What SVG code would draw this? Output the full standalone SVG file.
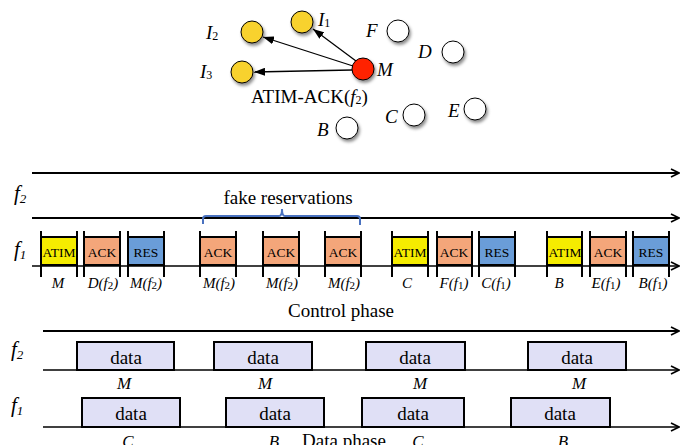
<svg xmlns="http://www.w3.org/2000/svg" width="694" height="445" viewBox="0 0 694 445">
<defs>
<style>
.t{font-family:"Liberation Serif","Times New Roman",serif;fill:#000}
.i{font-style:italic}
.n{font-style:normal}
.nd circle{stroke:#000;stroke-width:1;filter:url(#sh)}
.box{stroke:#000;stroke-width:2}
.tick{stroke:#000;stroke-width:2}
.tl{stroke:#000;fill:none;marker-end:url(#open)}
.atim{fill:#F5EC00}
.ack{fill:#F4A67A}
.res{fill:#6A9DD8}
.data{fill:#E0E0F6;stroke:#000;stroke-width:2}
.arr{stroke:#000;stroke-width:1.3;fill:none;marker-end:url(#ah)}
</style>
<filter id="sh" x="-60%" y="-60%" width="220%" height="220%"><feDropShadow dx="1.5" dy="2.5" stdDeviation="1.8" flood-color="#000" flood-opacity="0.45"/></filter>
<marker id="ah" markerWidth="11" markerHeight="8" refX="11" refY="4" orient="auto" markerUnits="userSpaceOnUse"><path d="M0,0 L11,4 L0,8 z" fill="#000"/></marker>
<marker id="open" markerWidth="10" markerHeight="10" refX="9" refY="5" orient="auto" markerUnits="userSpaceOnUse"><path d="M1,1 L9,5 L1,9" fill="none" stroke="#000" stroke-width="1.6"/></marker>
</defs>
<rect width="694" height="445" fill="#fff"/>

<!-- top graph connectors -->
<g id="connectors">
<line class="arr" x1="356" y1="61" x2="313" y2="29"/>
<line class="arr" x1="353" y1="66" x2="263" y2="37"/>
<line class="arr" x1="352" y1="70" x2="254" y2="72"/>
</g>

<g id="node-I1" class="nd"><circle cx="302" cy="22" r="11" fill="#F8D22E"/><text class="t i" x="318" y="26" font-size="19">I<tspan class="n" font-size="12" dy="1">1</tspan></text></g>
<g id="node-I2" class="nd"><circle cx="252" cy="32" r="11" fill="#F8D22E"/><text class="t i" x="206" y="39" font-size="19">I<tspan class="n" font-size="12" dy="1">2</tspan></text></g>
<g id="node-I3" class="nd"><circle cx="242" cy="72" r="11" fill="#F8D22E"/><text class="t i" x="200" y="78" font-size="19">I<tspan class="n" font-size="12" dy="1">3</tspan></text></g>
<g id="node-M" class="nd"><circle cx="363" cy="69" r="11" fill="#FF2200"/><text class="t i" x="377" y="76" font-size="19">M</text></g>
<g id="node-F" class="nd"><circle cx="398" cy="31" r="11" fill="#fff"/><text class="t i" x="366" y="37" font-size="19">F</text></g>
<g id="node-D" class="nd"><circle cx="453" cy="52" r="11" fill="#fff"/><text class="t i" x="418" y="58" font-size="19">D</text></g>
<g id="node-E" class="nd"><circle cx="475" cy="109" r="11" fill="#fff"/><text class="t i" x="448" y="117" font-size="19">E</text></g>
<g id="node-C" class="nd"><circle cx="414" cy="115" r="11" fill="#fff"/><text class="t i" x="385" y="123" font-size="19">C</text></g>
<g id="node-B" class="nd"><circle cx="347" cy="128" r="11" fill="#fff"/><text class="t i" x="317" y="136" font-size="19">B</text></g>
<text class="t" x="251" y="103" font-size="19">ATIM-ACK(<tspan class="i">f</tspan><tspan font-size="12" dy="1">2</tspan><tspan dy="-1">)</tspan></text>

<!-- control phase timelines -->
<g id="control-lines">
<line class="tl" x1="32" y1="173" x2="679" y2="173" stroke-width="2"/>
<line class="tl" x1="32" y1="218" x2="679" y2="218" stroke-width="2"/>
<line class="tl" x1="32" y1="266" x2="679" y2="266" stroke-width="1.6"/>
</g>
<text class="t i" x="14" y="200" font-size="21">f<tspan font-size="13" dy="3">2</tspan></text>
<text class="t i" x="14" y="256" font-size="21">f<tspan font-size="13" dy="3">1</tspan></text>

<g id="bracket">
<path d="M203,224 L203,219 Q203,216 206,216 L279,216 Q282,216 282,209 Q282,216 285,216 L357,216 Q360,216 360,219 L360,225" fill="none" stroke="#4A72C0" stroke-width="2"/>
<text class="t" x="288" y="204" font-size="19" text-anchor="middle">fake reservations</text>
</g>

<g id="control-boxes">
<g id="b1"><rect class="box atim" x="41" y="237" width="36" height="28"/><path class="tick" d="M41,231V277M77,231V277"/><text class="t" x="59" y="257" font-size="13.5" text-anchor="middle">ATIM</text><text class="t i" x="58" y="288" font-size="15" text-anchor="middle">M</text></g>
<g id="b2"><rect class="box ack" x="84" y="237" width="36" height="28"/><path class="tick" d="M84,231V277M120,231V277"/><text class="t" x="102" y="257" font-size="13.5" text-anchor="middle">ACK</text><text class="t i" x="103" y="288" font-size="15" text-anchor="middle">D(f<tspan class="n" font-size="11" dy="1">2</tspan><tspan dy="-1">)</tspan></text></g>
<g id="b3"><rect class="box res" x="128" y="237" width="36" height="28"/><path class="tick" d="M128,231V277M164,231V277"/><text class="t" x="146" y="257" font-size="13.5" text-anchor="middle">RES</text><text class="t i" x="146" y="288" font-size="15" text-anchor="middle">M(f<tspan class="n" font-size="11" dy="1">2</tspan><tspan dy="-1">)</tspan></text></g>
<g id="b4"><rect class="box ack" x="200" y="237" width="36" height="28"/><path class="tick" d="M200,231V277M236,231V277"/><text class="t" x="218" y="257" font-size="13.5" text-anchor="middle">ACK</text><text class="t i" x="219" y="288" font-size="15" text-anchor="middle">M(f<tspan class="n" font-size="11" dy="1">2</tspan><tspan dy="-1">)</tspan></text></g>
<g id="b5"><rect class="box ack" x="263" y="237" width="36" height="28"/><path class="tick" d="M263,231V277M299,231V277"/><text class="t" x="281" y="257" font-size="13.5" text-anchor="middle">ACK</text><text class="t i" x="282" y="288" font-size="15" text-anchor="middle">M(f<tspan class="n" font-size="11" dy="1">2</tspan><tspan dy="-1">)</tspan></text></g>
<g id="b6"><rect class="box ack" x="325" y="237" width="36" height="28"/><path class="tick" d="M325,231V277M361,231V277"/><text class="t" x="343" y="257" font-size="13.5" text-anchor="middle">ACK</text><text class="t i" x="344" y="288" font-size="15" text-anchor="middle">M(f<tspan class="n" font-size="11" dy="1">2</tspan><tspan dy="-1">)</tspan></text></g>
<g id="b7"><rect class="box atim" x="392" y="237" width="36" height="28"/><path class="tick" d="M392,231V277M428,231V277"/><text class="t" x="410" y="257" font-size="13.5" text-anchor="middle">ATIM</text><text class="t i" x="407" y="288" font-size="15" text-anchor="middle">C</text></g>
<g id="b8"><rect class="box ack" x="437" y="237" width="35" height="28"/><path class="tick" d="M437,231V277M472,231V277"/><text class="t" x="454" y="257" font-size="13.5" text-anchor="middle">ACK</text><text class="t i" x="454" y="288" font-size="15" text-anchor="middle">F(f<tspan class="n" font-size="11" dy="1">1</tspan><tspan dy="-1">)</tspan></text></g>
<g id="b9"><rect class="box res" x="479" y="237" width="36" height="28"/><path class="tick" d="M479,231V277M515,231V277"/><text class="t" x="497" y="257" font-size="13.5" text-anchor="middle">RES</text><text class="t i" x="496" y="288" font-size="15" text-anchor="middle">C(f<tspan class="n" font-size="11" dy="1">1</tspan><tspan dy="-1">)</tspan></text></g>
<g id="b10"><rect class="box atim" x="547" y="237" width="35" height="28"/><path class="tick" d="M547,231V277M582,231V277"/><text class="t" x="565" y="257" font-size="13.5" text-anchor="middle">ATIM</text><text class="t i" x="559" y="288" font-size="15" text-anchor="middle">B</text></g>
<g id="b11"><rect class="box ack" x="590" y="237" width="36" height="28"/><path class="tick" d="M590,231V277M626,231V277"/><text class="t" x="608" y="257" font-size="13.5" text-anchor="middle">ACK</text><text class="t i" x="606" y="288" font-size="15" text-anchor="middle">E(f<tspan class="n" font-size="11" dy="1">1</tspan><tspan dy="-1">)</tspan></text></g>
<g id="b12"><rect class="box res" x="633" y="237" width="36" height="28"/><path class="tick" d="M633,231V277M669,231V277"/><text class="t" x="651" y="257" font-size="13.5" text-anchor="middle">RES</text><text class="t i" x="653" y="288" font-size="15" text-anchor="middle">B(f<tspan class="n" font-size="11" dy="1">1</tspan><tspan dy="-1">)</tspan></text></g>
</g>

<text class="t" x="341" y="317" font-size="19" text-anchor="middle">Control phase</text>

<!-- data phase -->
<g id="data-lines">
<line class="tl" x1="43" y1="331" x2="679" y2="331" stroke-width="2"/>
<line class="tl" x1="43" y1="370" x2="679" y2="370" stroke-width="1.6"/>
<line class="tl" x1="43" y1="427" x2="679" y2="427" stroke-width="1.6"/>
</g>
<text class="t i" x="11" y="356" font-size="21">f<tspan font-size="13" dy="3">2</tspan></text>
<text class="t i" x="11" y="412" font-size="21">f<tspan font-size="13" dy="3">1</tspan></text>

<g id="data-boxes">
<g id="d1"><rect class="data" x="77" y="342" width="97" height="28"/><text class="t" x="126" y="364" font-size="19" text-anchor="middle">data</text><text class="t i" x="124" y="389" font-size="17" text-anchor="middle">M</text></g>
<g id="d2"><rect class="data" x="214" y="342" width="98" height="28"/><text class="t" x="263" y="364" font-size="19" text-anchor="middle">data</text><text class="t i" x="265" y="389" font-size="17" text-anchor="middle">M</text></g>
<g id="d3"><rect class="data" x="366" y="342" width="99" height="28"/><text class="t" x="415" y="364" font-size="19" text-anchor="middle">data</text><text class="t i" x="420" y="389" font-size="17" text-anchor="middle">M</text></g>
<g id="d4"><rect class="data" x="528" y="342" width="98" height="28"/><text class="t" x="577" y="364" font-size="19" text-anchor="middle">data</text><text class="t i" x="579" y="389" font-size="17" text-anchor="middle">M</text></g>
<g id="d5"><rect class="data" x="82" y="398" width="98" height="29"/><text class="t" x="131" y="420" font-size="19" text-anchor="middle">data</text><text class="t i" x="128" y="447" font-size="17" text-anchor="middle">C</text></g>
<g id="d6"><rect class="data" x="226" y="398" width="98" height="29"/><text class="t" x="275" y="420" font-size="19" text-anchor="middle">data</text><text class="t i" x="274" y="447" font-size="17" text-anchor="middle">B</text></g>
<g id="d7"><rect class="data" x="362" y="398" width="102" height="29"/><text class="t" x="413" y="420" font-size="19" text-anchor="middle">data</text><text class="t i" x="418" y="447" font-size="17" text-anchor="middle">C</text></g>
<g id="d8"><rect class="data" x="511" y="398" width="99" height="29"/><text class="t" x="560" y="420" font-size="19" text-anchor="middle">data</text><text class="t i" x="563" y="447" font-size="17" text-anchor="middle">B</text></g>
</g>
<text class="t" x="344" y="447" font-size="19" text-anchor="middle">Data phase</text>
</svg>
